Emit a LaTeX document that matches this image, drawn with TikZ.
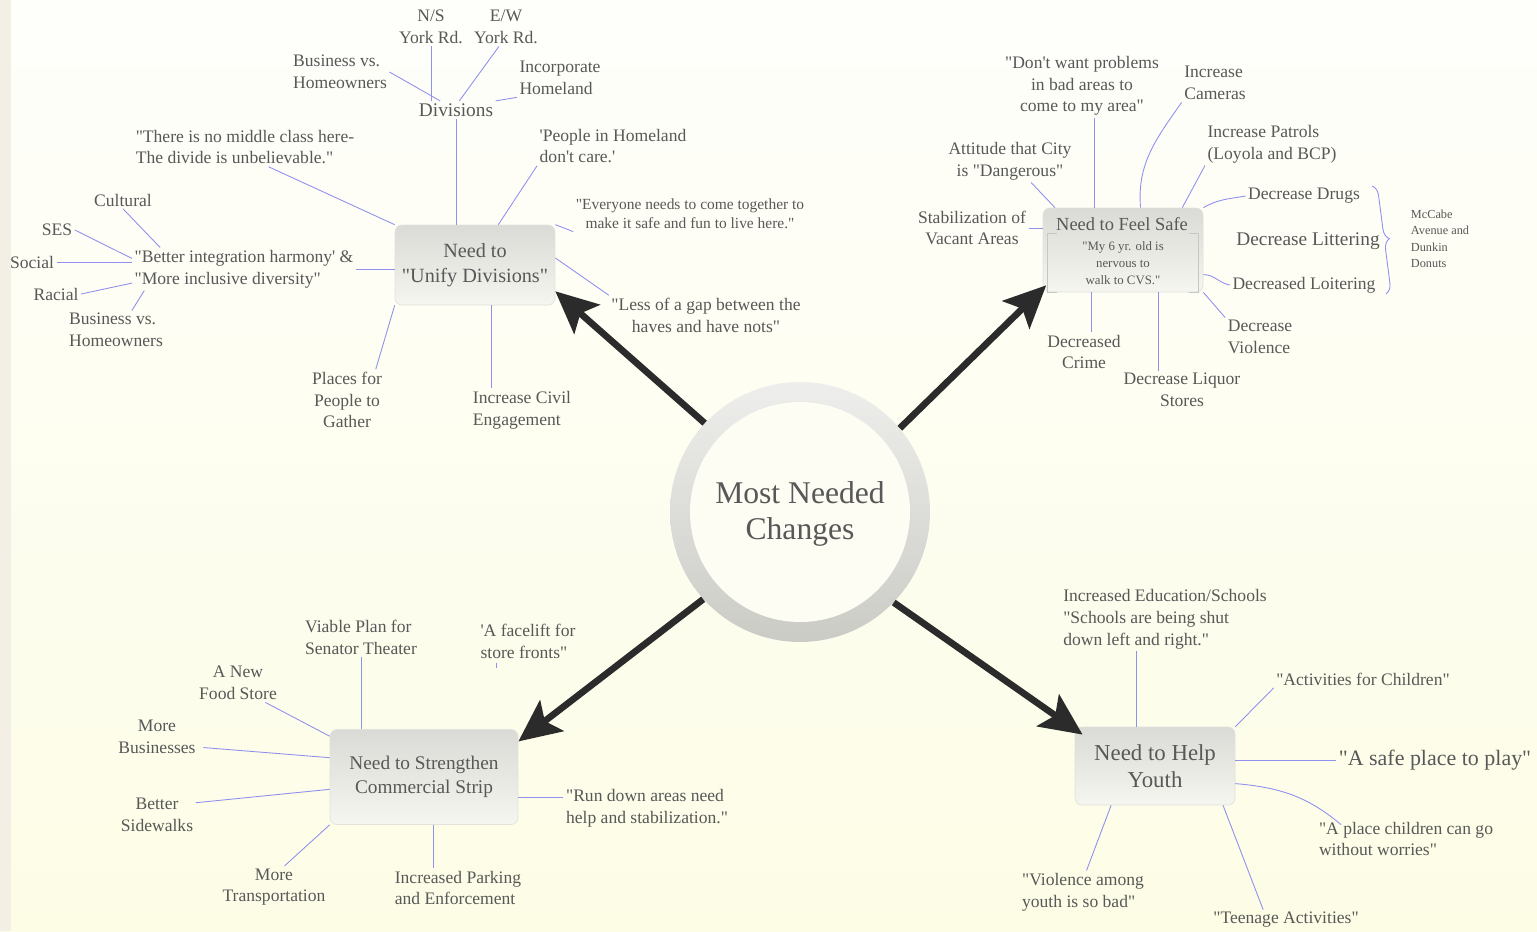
\documentclass[tikz,border=0pt]{standalone}
\usepackage{fontspec}
\setmainfont{Liberation Serif}[Ligatures=TeXOff]
\usetikzlibrary{arrows.meta,decorations.pathreplacing,calc}
\definecolor{txt}{HTML}{585858}
\definecolor{linkc}{HTML}{9090EE}
\definecolor{boxt}{HTML}{DADAD6}
\definecolor{boxb}{HTML}{F6F6F0}
\definecolor{boxd}{HTML}{E2E2DC}
\definecolor{ringt}{HTML}{EEEEEC}
\definecolor{ringb}{HTML}{CBCBC6}
\definecolor{bgt}{HTML}{FEFEFB}
\definecolor{bgb}{HTML}{FDFDE6}
\definecolor{bgc}{HTML}{FDFDF3}
\definecolor{bgl}{HTML}{F3EFE5}
\definecolor{arr}{HTML}{2B2B2B}
\newcommand\fntR{\fontsize{10}{12.4}\selectfont}
\newcommand\fntS{\fontsize{8.8}{10.8}\selectfont}
\newcommand\fntD{\fontsize{11}{13}\selectfont}
\newcommand\fntU{\fontsize{11.5}{14}\selectfont}
\newcommand\fntT{\fontsize{10.5}{12}\selectfont}
\newcommand\fntX{\fontsize{7.3}{9.6}\selectfont}
\newcommand\fntL{\fontsize{11}{13}\selectfont}
\newcommand\fntM{\fontsize{7}{9.4}\selectfont}
\newcommand\fntK{\fontsize{11}{13.6}\selectfont}
\newcommand\fntY{\fontsize{13}{15.5}\selectfont}
\newcommand\fntP{\fontsize{12.5}{14}\selectfont}
\newcommand\fntC{\fontsize{18}{20.5}\selectfont}
\begin{document}
\begin{tikzpicture}[x=0.02cm,y=-0.02cm,
  lb/.style={text=txt,font=\fntR,align=center,inner sep=0pt,outer sep=1.5pt},
  lbl/.style={lb,align=left},
  lnk/.style={draw=linkc,line width=0.5pt},
  box/.style={rounded corners=4pt,draw=boxd,line width=0.4pt,top color=boxt,bottom color=boxb,inner sep=0pt,text=txt,align=center},
  big/.style={line width=3.8pt,draw=arr,-{Stealth[length=24pt,width=22pt,inset=5pt]}},
  brk/.style={draw=gray!45,line width=0.6pt}
]
% background
\shade[top color=bgt,bottom color=bgb] (0,0) rectangle (1537,931);
\fill[bgl] (0,0) rectangle (11,931);
\useasboundingbox (0,0) rectangle (1537,931);

% centre
\node[circle,minimum size=5.2cm,inner sep=0pt,top color=ringt,bottom color=ringb] (c) at (800,512) {};
\fill[bgc] (c.center) circle (2.2cm);
\node[text=txt,align=center,font=\fntC] (ct) at (800,514) {Most Needed\\Changes};

% ---------- top left ----------
\node[box,minimum width=3.2cm,minimum height=1.6cm,font=\fntU] (u) at (475,265) {Need to\\"Unify Divisions"};
\node[lb,font=\fntD] (div) at (456,110) {Divisions};
\node[lb] (ns) at (431,27) {N/S\\York Rd.};
\node[lb] (ew) at (506,27) {E/W\\York Rd.};
\node[lbl] (bh1) at (340,72) {Business vs.\\Homeowners};
\node[lbl] (inc) at (560,78) {Incorporate\\Homeland};
\node[lbl] (nomid) at (245,147) {"There is no middle class here-\\The divide is unbelievable."};
\node[lbl] (people) at (613,146) {'People in Homeland\\don't care.'};
\node[lb,font=\fntS] (every) at (690,214) {"Everyone needs to come together to\\make it safe and fun to live here."};
\node[lb] (gap) at (706,315) {"Less of a gap between the\\haves and have nots"};
\node[lbl] (civ) at (522,410) {Increase Civil\\Engagement};
\node[lb] (places) at (347,400) {Places for\\People to\\Gather};
\node[lbl] (better) at (244,269) {"Better integration harmony' \&\\"More inclusive diversity"};
\node[lb] (cult) at (123,200) {Cultural};
\node[lb] (ses) at (57,230) {SES};
\node[lb] (soc) at (32,262) {Social};
\node[lb] (rac) at (56,294) {Racial};
\node[lbl] (bh2) at (116,330) {Business vs.\\Homeowners};

\draw[lnk] (ns.south) -- (ns.south |- div.north);
\draw[lnk] (ew.250) -- (div.70);
\draw[lnk] (bh1.east) -- (div.150);
\draw[lnk] (inc.south west) -- (div.north east);
\draw[lnk] (div.south) -- (div.south |- u.north);
\draw[lnk] (nomid.-40) -- (u.north west);
\draw[lnk] (people.south west) -- (u.60);
\draw[lnk] (every.south west) -- (u.north east);
\draw[lnk] (gap.north west) -- ([yshift=4pt]u.east);
\draw[lnk] ([xshift=12pt]civ.north west) -- ([xshift=12pt]civ.north west |- u.south);
\draw[lnk] ([xshift=-5pt]places.north east) -- (u.south west);
\draw[lnk] (better.east) -- (better.east -| u.west);
\draw[lnk] (cult.south) -- ([xshift=16pt]better.north west);
\draw[lnk] (ses.east) -- ([yshift=6pt]better.west);
\draw[lnk] (soc.east) -- (soc.east -| better.west);
\draw[lnk] (rac.east) -- ([yshift=-8pt]better.west);
\draw[lnk] ([xshift=9pt]bh2.north) -- ([xshift=7pt]better.south west);

% ---------- top right ----------
\node[box,minimum width=3.2cm,minimum height=1.68cm] (s) at (1123,250) {};
\node[lb,font=\fntT] (st) at (1122,224) {Need to Feel Safe};
\node[lb,font=\fntX,minimum width=2.9cm,minimum height=1.08cm] (cv) at (1123,263) {"My 6 yr. old is\\nervous to\\walk to CVS."};
\draw[brk] ([xshift=5pt]cv.north west) -- (cv.north west) -- (cv.south west) -- ([xshift=5pt]cv.south west);
\draw[brk] ([xshift=-5pt]cv.north east) -- (cv.north east) -- (cv.south east) -- ([xshift=-5pt]cv.south east);
\node[lb] (dont) at (1082,86) {"Don't want problems\\in bad areas to\\come to my area"};
\node[lbl] (cam) at (1215,83) {Increase\\Cameras};
\node[lbl] (pat) at (1272,144) {Increase Patrols\\(Loyola and BCP)};
\node[lb] (att) at (1010,161) {Attitude that City\\is "Dangerous"};
\node[lb] (stab) at (972,228) {Stabilization of\\Vacant Areas};
\node[lb] (drugs) at (1304,196) {Decrease Drugs};
\node[lb,font=\fntL] (litt) at (1308,241) {Decrease Littering};
\node[lb] (loit) at (1304,285) {Decreased Loitering};
\node[lbl,font=\fntM] (mc) at (1440,239) {McCabe\\Avenue and\\Dunkin\\Donuts};
\node[lbl] (viol) at (1260,337) {Decrease\\Violence};
\node[lb] (crime) at (1084,352) {Decreased\\Crime};
\node[lb] (liq) at (1182,390) {Decrease Liquor\\Stores};

\draw[lnk] ([xshift=7pt]dont.south) -- ([xshift=7pt]dont.south |- s.north);
\draw[lnk] (cam.south west) to[out=235,in=95] ([xshift=10pt]s.north);
\draw[lnk] (pat.south west) -- ([xshift=-12pt]s.north east);
\draw[lnk] ([xshift=12pt]att.south) -- ([xshift=7pt]s.north west);
\draw[lnk] (stab.east) -- (stab.east -| s.west);
\draw[lnk] (drugs.west) to[out=190,in=30] (s.north east);
\draw[lnk] (loit.west) to[out=170,in=0] ([yshift=-14pt]s.east);
\draw[lnk] (viol.north west) -- (s.south east);
\draw[lnk] ([xshift=4.5pt]crime.north) -- ([xshift=4.5pt]crime.north |- s.south);
\draw[lnk] ([xshift=-13.6pt]liq.north) -- ([xshift=-13.6pt]liq.north |- s.south);
\coordinate (b1) at (1372,186);
\coordinate (b2) at (1386,294);
\draw[lnk,decorate,decoration={brace,amplitude=6pt}] (b1) -- (b2);

% ---------- bottom left ----------
\node[box,minimum width=3.76cm,minimum height=1.9cm,font=\fntK] (k) at (424,777) {Need to Strengthen\\Commercial Strip};
\node[lbl] (viable) at (361,637) {Viable Plan for\\Senator Theater};
\node[lbl] (face) at (528,641) {'A facelift for\\store fronts"};
\node[lb] (food) at (238,683) {A New\\Food Store};
\node[lb] (bus) at (157,737) {More\\Businesses};
\node[lb] (side) at (157,815) {Better\\Sidewalks};
\node[lb] (trans) at (274,887) {More\\Transportation};
\node[lbl] (park) at (458,888) {Increased Parking\\and Enforcement};
\node[lbl] (run) at (647,808) {"Run down areas need\\help and stabilization."};

\draw[lnk] (viable.south) -- (viable.south |- k.north);
\draw[lnk] ([xshift=-18pt,yshift=-1pt]face.south) -- ([xshift=-18pt,yshift=-4pt]face.south);
\draw[lnk] ([xshift=-8pt]food.south east) -- ([yshift=-4pt]k.north west);
\draw[lnk] ([xshift=3pt,yshift=-6pt]bus.east) -- ([yshift=11pt]k.west);
\draw[lnk] ([yshift=7pt]side.east) -- ([yshift=-7pt]k.west);
\draw[lnk] ([xshift=6pt]trans.north) -- (k.south west);
\draw[lnk] ([xshift=-14pt]park.north) -- ([xshift=-14pt]park.north |- k.south);
\draw[lnk] ([yshift=6pt]run.west) -- ([yshift=6pt]run.west -| k.east);

% ---------- bottom right ----------
\node[box,minimum width=3.2cm,minimum height=1.56cm,font=\fntY] (y) at (1155,766) {Need to Help\\Youth};
\node[lbl] (edu) at (1165,619) {Increased Education/Schools\\"Schools are being shut\\down left and right."};
\node[lb] (act) at (1363,679) {"Activities for Children"};
\node[lb,font=\fntP] (safe) at (1435,760) {"A safe place to play"};
\node[lbl] (place) at (1406,839) {"A place children can go\\without worries"};
\node[lb] (teen) at (1286,920) {"Teenage Activities"};
\node[lbl] (vio) at (1083,892) {"Violence among\\youth is so bad"};

\draw[lnk] ([xshift=-16.5pt]edu.south) -- ([xshift=-16.5pt]edu.south |- y.north);
\draw[lnk] (act.south west) -- (y.north east);
\draw[lnk] (safe.west) -- (safe.west -| y.east);
\draw[lnk] ([yshift=-10pt]y.east) to[out=-5,in=140] ([xshift=14pt,yshift=-3pt]place.north west);
\draw[lnk] ([xshift=-13pt]teen.north) -- ([xshift=-7pt]y.south east);
\draw[lnk] ([xshift=2pt]vio.north) -- ([xshift=-25pt]y.south);

% ---------- main arrows ----------
\draw[big] (c.137) -- ([yshift=8pt]u.south east);
\draw[big] (c.40) -- ([xshift=2pt,yshift=4pt]s.south west);
\draw[big] (c.222) -- ([yshift=-7pt]k.north east);
\draw[big] (c.316) -- ([xshift=4.5pt,yshift=-4.5pt]y.north west);
\end{tikzpicture}
\end{document}
